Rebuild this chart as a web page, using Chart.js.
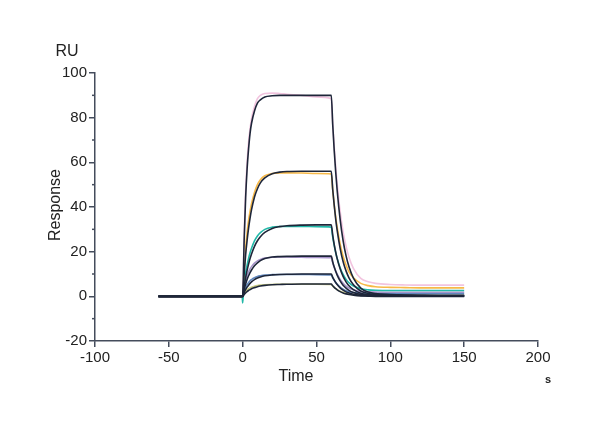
<!DOCTYPE html>
<html>
<head>
<meta charset="utf-8">
<script src="https://cdn.jsdelivr.net/npm/chart.js@4/dist/chart.umd.min.js"></script>
<style>
  html, body { margin: 0; padding: 0; background: #fff; }
  #wrap { width: 600px; height: 430px; }
</style>
</head>
<body>
<div id="wrap"><canvas id="sensorgram" width="600" height="430"></canvas></div>
<script>
// time points (s)
const times = [-57, -0.3, 0, 1, 2, 3, 4, 5, 6, 8, 10, 12, 15, 20, 25, 30, 40, 50, 60,
  61, 62, 63, 64, 66, 68, 70, 72, 75, 80, 85, 90, 100, 110, 120, 135, 150];

// measured responses (RU), highest to lowest concentration
const data1 = [0, 0, 0, 27, 47, 60, 69, 75, 79.5, 85, 88.5, 90, 90.8, 91, 90.8, 90.5, 90, 89.3, 88.5,
  77, 67, 58, 50.5, 38, 29, 22.5, 17.5, 12.5, 8, 6.5, 5.8, 5.3, 5.1, 5, 5, 5];
const data2 = [0, 0, 0, 12, 21.5, 28.5, 34, 38, 41.5, 46.5, 50, 52.2, 54, 55, 55.3, 55.3, 55.2, 55, 54.8,
  47.5, 41, 35.5, 31, 23.5, 18, 14, 11, 8.3, 5.8, 4.8, 4.3, 4, 3.9, 3.8, 3.8, 3.8];
const data3 = [0, 0, -3, 6, 10.5, 14, 17, 19.5, 21.5, 24.8, 27, 28.5, 30, 31, 31.3, 31.3, 31.3, 31.2, 31,
  26.5, 22.8, 19.6, 17, 12.8, 9.8, 7.6, 6.1, 4.6, 3.4, 2.9, 2.7, 2.6, 2.6, 2.6, 2.6, 2.6];
const data4 = [0, 0, 0, 4, 7, 9.3, 11, 12.3, 13.3, 14.9, 15.9, 16.5, 17.1, 17.5, 17.6, 17.6, 17.5, 17.4, 17.3,
  15, 13, 11.3, 9.9, 7.6, 5.9, 4.6, 3.7, 2.9, 2.2, 2, 1.9, 1.8, 1.8, 1.8, 1.8, 1.8];
const data5 = [0, 0, 0, 2.3, 4, 5.3, 6.2, 7, 7.5, 8.3, 8.9, 9.2, 9.5, 9.7, 9.8, 9.8, 9.8, 9.7, 9.6,
  8.3, 7.2, 6.2, 5.4, 4.1, 3.2, 2.5, 2.1, 1.7, 1.4, 1.3, 1.2, 1.2, 1.2, 1.2, 1.2, 1.2];
const data6 = [0, 0, 0, 1.2, 2.2, 2.9, 3.4, 3.8, 4.1, 4.5, 4.8, 5, 5.2, 5.3, 5.4, 5.4, 5.4, 5.4, 5.3,
  4.6, 4, 3.5, 3, 2.3, 1.8, 1.4, 1.1, 0.8, 0.6, 0.5, 0.5, 0.5, 0.5, 0.5, 0.5, 0.5];

// fitted curves (RU)
const fit1 = [0, 0, 0, 25, 44, 57, 66, 73, 77.5, 83, 86.5, 88, 89.3, 89.8, 90, 90, 90, 90, 90,
  76.7, 65.3, 55.7, 47.4, 34.5, 25, 18.2, 13.2, 8.2, 3.7, 1.9, 1.2, 0.8, 0.6, 0.5, 0.4, 0.4];
const fit2 = [0, 0, 0, 10, 18.5, 25, 30.5, 35, 38.8, 44.5, 48.2, 50.8, 53, 54.9, 55.6, 55.9, 56, 56, 56,
  47.7, 40.7, 34.6, 29.5, 21.5, 15.6, 11.4, 8.3, 5.2, 2.4, 1.3, 0.9, 0.6, 0.5, 0.4, 0.3, 0.3];
const fit3 = [0, 0, 0, 4.5, 8.3, 11.6, 14.4, 16.9, 19, 22.4, 24.9, 26.7, 28.6, 30.4, 31.2, 31.6, 31.9, 32, 32,
  27.3, 23.2, 19.8, 16.9, 12.3, 8.9, 6.5, 4.7, 3, 1.4, 0.8, 0.6, 0.4, 0.3, 0.3, 0.2, 0.2];
const fit4 = [0, 0, 0, 3, 5.5, 7.5, 9.2, 10.6, 11.8, 13.7, 15, 16, 16.9, 17.6, 17.8, 17.9, 18, 18, 18,
  15.4, 13.1, 11.2, 9.5, 6.9, 5, 3.7, 2.7, 1.7, 0.8, 0.5, 0.3, 0.2, 0.2, 0.2, 0.2, 0.2];
const fit5 = [0, 0, 0, 1.6, 3, 4.1, 5, 5.8, 6.5, 7.5, 8.2, 8.7, 9.2, 9.6, 9.8, 9.9, 10, 10, 10,
  8.5, 7.3, 6.2, 5.3, 3.8, 2.8, 2, 1.5, 0.9, 0.4, 0.2, 0.1, 0.1, 0.1, 0.1, 0.1, 0.1];
const fit6 = [0, 0, 0, 0.8, 1.5, 2.1, 2.6, 3, 3.4, 3.9, 4.3, 4.6, 4.9, 5.2, 5.3, 5.4, 5.5, 5.5, 5.5,
  4.7, 4, 3.4, 2.9, 2.1, 1.5, 1.1, 0.8, 0.5, 0.2, 0.1, 0, 0, 0, 0, 0, 0];

const dataSeries = [data1, data2, data3, data4, data5, data6];
const fitSeries = [fit1, fit2, fit3, fit4, fit5, fit6];
const dataColors = ['#f2c4df', '#f7b948', '#22b8a8', '#a592c8', '#5f86bd', '#c9cb82'];
const fitColor = '#1e2639';
const axisColor = '#444c5c';
const textColor = '#222';
const yMinor = [-10, 10, 30, 50, 70, 90];

const pts = arr => arr.map((v, i) => ({ x: times[i], y: v }));

const datasets = [];
dataSeries.forEach((s, i) => datasets.push({
  data: pts(s), borderColor: dataColors[i], borderWidth: 1.6, order: 2
}));
fitSeries.forEach(s => datasets.push({
  data: pts(s), borderColor: fitColor, borderWidth: 1.6, order: 1
}));

const labelsPlugin = {
  id: 'labels',
  afterDraw(chart) {
    const ctx = chart.ctx;
    const y = chart.scales.y;
    ctx.save();
    // minor ticks on y axis
    ctx.strokeStyle = axisColor;
    ctx.lineWidth = 1.5;
    yMinor.forEach(v => {
      const py = y.getPixelForValue(v);
      ctx.beginPath();
      ctx.moveTo(y.right - 3, py);
      ctx.lineTo(y.right, py);
      ctx.stroke();
    });
    ctx.fillStyle = textColor;
    ctx.textAlign = 'center';
    ctx.textBaseline = 'middle';
    ctx.font = '16px "Liberation Sans", Arial, sans-serif';
    ctx.fillText('RU', 67, 52);
    ctx.fillText('Time', 296, 377);
    ctx.save();
    ctx.translate(56, 205);
    ctx.rotate(-Math.PI / 2);
    ctx.fillText('Response', 0, 0);
    ctx.restore();
    ctx.font = 'bold 11px "Liberation Sans", Arial, sans-serif';
    ctx.fillText('s', 548, 380);
    ctx.restore();
  }
};

new Chart(document.getElementById('sensorgram'), {
  type: 'line',
  data: { datasets },
  options: {
    responsive: false,
    animation: false,
    layout: { padding: { top: 73, right: 62, left: 0, bottom: 0 } },
    elements: {
      point: { radius: 0 },
      line: { cubicInterpolationMode: 'monotone', fill: false }
    },
    plugins: { legend: { display: false }, tooltip: { enabled: false } },
    scales: {
      x: {
        type: 'linear', min: -100, max: 200,
        afterFit: s => { s.height = 89; },
        border: { display: true, color: axisColor, width: 1.5 },
        grid: { drawOnChartArea: false, drawTicks: true, tickLength: 6, color: axisColor, lineWidth: 1.5 },
        ticks: { stepSize: 50, maxRotation: 0, padding: 2, color: textColor,
          font: { family: '"Liberation Sans", Arial, sans-serif', size: 15 } }
      },
      y: {
        min: -20, max: 100,
        afterFit: s => { s.width = 95; },
        border: { display: true, color: axisColor, width: 1.5 },
        grid: { drawOnChartArea: false, drawTicks: true, tickLength: 6, color: axisColor, lineWidth: 1.5 },
        ticks: { stepSize: 20, padding: 2, color: textColor,
          font: { family: '"Liberation Sans", Arial, sans-serif', size: 15 } }
      }
    }
  },
  plugins: [labelsPlugin]
});
</script>
</body>
</html>
